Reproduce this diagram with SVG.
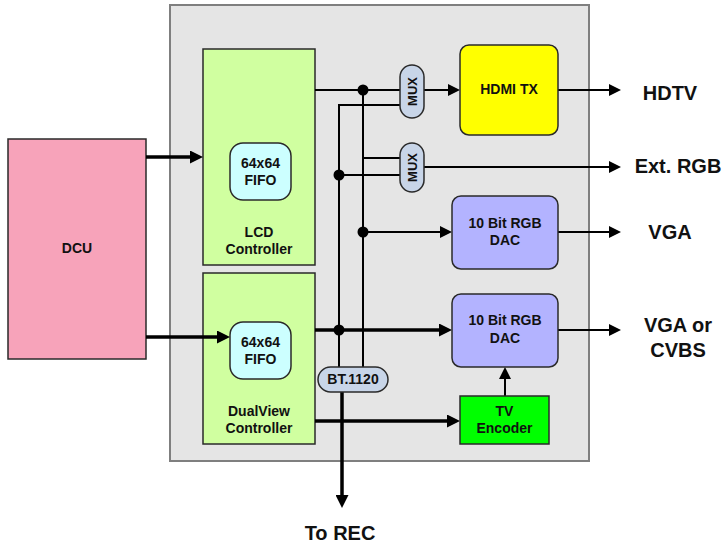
<svg xmlns="http://www.w3.org/2000/svg" width="726" height="547" viewBox="0 0 726 547">
<defs>
<marker id="ah" markerUnits="userSpaceOnUse" markerWidth="12" markerHeight="12" refX="4" refY="6" orient="auto" viewBox="0 0 12 12">
<path d="M0,0 L12,6 L0,12 z" fill="#000"/>
</marker>
<marker id="ahb" markerUnits="userSpaceOnUse" markerWidth="13" markerHeight="13" refX="5" refY="6.5" orient="auto" viewBox="0 0 13 13">
<path d="M0,0 L13,6.5 L0,13 z" fill="#000"/>
</marker>
</defs>
<style>
.t{font-family:"Liberation Sans",Arial,sans-serif;font-weight:bold;fill:#111;text-anchor:middle}
.s14{font-size:14px}
.s13{font-size:13px}
.s20{font-size:20px}
.box{stroke:#2a2a2a;stroke-width:1.5}
.thin{fill:none;stroke:#000;stroke-width:2}
.thick{fill:none;stroke:#000;stroke-width:3.5}
.pill{fill:#C8D5E8;stroke:#2a2a2a;stroke-width:1.5}
</style>
<rect x="0" y="0" width="726" height="547" fill="#fff"/>
<g id="container">
<rect x="170" y="5" width="419" height="456" fill="#E5E5E5" stroke="#7F7F7F" stroke-width="2"/>
</g>
<g id="dcu">
<rect class="box" x="8" y="139" width="138" height="220" fill="#F7A3BA"/>
<text class="t s14" x="77" y="253">DCU</text>
</g>
<g id="lcd">
<rect class="box" x="203" y="49" width="112" height="216" fill="#D0FFA0"/>
<text class="t s14" x="259" y="237">LCD</text>
<text class="t s14" x="259" y="254">Controller</text>
</g>
<g id="fifo1">
<rect class="box" x="230" y="143" width="61" height="57" rx="13" fill="#CCFFFF"/>
<text class="t s14" x="260.5" y="168">64x64</text>
<text class="t s14" x="260.5" y="185">FIFO</text>
</g>
<g id="dualview">
<rect class="box" x="203" y="273" width="112" height="171" fill="#D0FFA0"/>
<text class="t s14" x="259" y="416">DualView</text>
<text class="t s14" x="259" y="433">Controller</text>
</g>
<g id="fifo2">
<rect class="box" x="230" y="322" width="61" height="57" rx="13" fill="#CCFFFF"/>
<text class="t s14" x="260.5" y="347">64x64</text>
<text class="t s14" x="260.5" y="364">FIFO</text>
</g>
<g id="connectors">
<path class="thick" d="M146,157 H195" marker-end="url(#ahb)"/>
<path class="thick" d="M146,337 H222" marker-end="url(#ahb)"/>
<path class="thick" d="M315,330 H444" marker-end="url(#ahb)"/>
<path class="thick" d="M315,421 H452" marker-end="url(#ahb)"/>
<path class="thick" d="M342,392 V500" marker-end="url(#ahb)"/>
<path class="thin" d="M315,90 H400"/>
<path class="thin" d="M424,90 H452" marker-end="url(#ah)"/>
<path class="thin" d="M400,105 H339 V367"/>
<path class="thin" d="M363,90 V367"/>
<path class="thin" d="M363,158 H400"/>
<path class="thin" d="M339,175 H400"/>
<path class="thin" d="M424,167 H613" marker-end="url(#ah)"/>
<path class="thin" d="M363,232 H444" marker-end="url(#ah)"/>
<path class="thin" d="M558,90 H613" marker-end="url(#ah)"/>
<path class="thin" d="M558,232 H613" marker-end="url(#ah)"/>
<path class="thin" d="M558,330 H613" marker-end="url(#ah)"/>
<path class="thin" d="M505,396 V375" marker-end="url(#ah)"/>
<circle cx="363" cy="90" r="5.5" fill="#000"/>
<circle cx="339" cy="175" r="5.5" fill="#000"/>
<circle cx="363" cy="232" r="5.5" fill="#000"/>
<circle cx="339" cy="330" r="5.5" fill="#000"/>
</g>
<g id="mux1">
<rect class="pill" x="400" y="65" width="24" height="53" rx="12"/>
<text class="t s13" transform="translate(412,91.5) rotate(-90)" x="0" y="4.7">MUX</text>
</g>
<g id="mux2">
<rect class="pill" x="400" y="143" width="24" height="49" rx="12"/>
<text class="t s13" transform="translate(412,167.5) rotate(-90)" x="0" y="4.7">MUX</text>
</g>
<g id="bt1120">
<rect class="pill" x="318" y="367" width="70" height="25" rx="12.5"/>
<text class="t s14" x="353" y="384">BT.1120</text>
</g>
<g id="hdmi">
<rect class="box" x="460" y="45" width="98" height="90" rx="9" fill="#FFFF00"/>
<text class="t s14" x="509" y="94">HDMI TX</text>
</g>
<g id="dac1">
<rect class="box" x="452" y="196" width="106" height="73" rx="9" fill="#B3B3FF"/>
<text class="t s14" x="505" y="228">10 Bit RGB</text>
<text class="t s14" x="505" y="245">DAC</text>
</g>
<g id="dac2">
<rect class="box" x="452" y="294" width="106" height="73" rx="9" fill="#B3B3FF"/>
<text class="t s14" x="505" y="325">10 Bit RGB</text>
<text class="t s14" x="505" y="343">DAC</text>
</g>
<g id="tvenc">
<rect class="box" x="460" y="396" width="89" height="48" fill="#00FF00"/>
<text class="t s14" x="504.5" y="416">TV</text>
<text class="t s14" x="504.5" y="433">Encoder</text>
</g>
<g id="labels">
<text class="t s20" x="670" y="100">HDTV</text>
<text class="t s20" x="678" y="173">Ext. RGB</text>
<text class="t s20" x="670" y="239">VGA</text>
<text class="t s20" x="678" y="332">VGA or</text>
<text class="t s20" x="678" y="357">CVBS</text>
<text class="t s20" x="340" y="540">To REC</text>
</g>
</svg>
